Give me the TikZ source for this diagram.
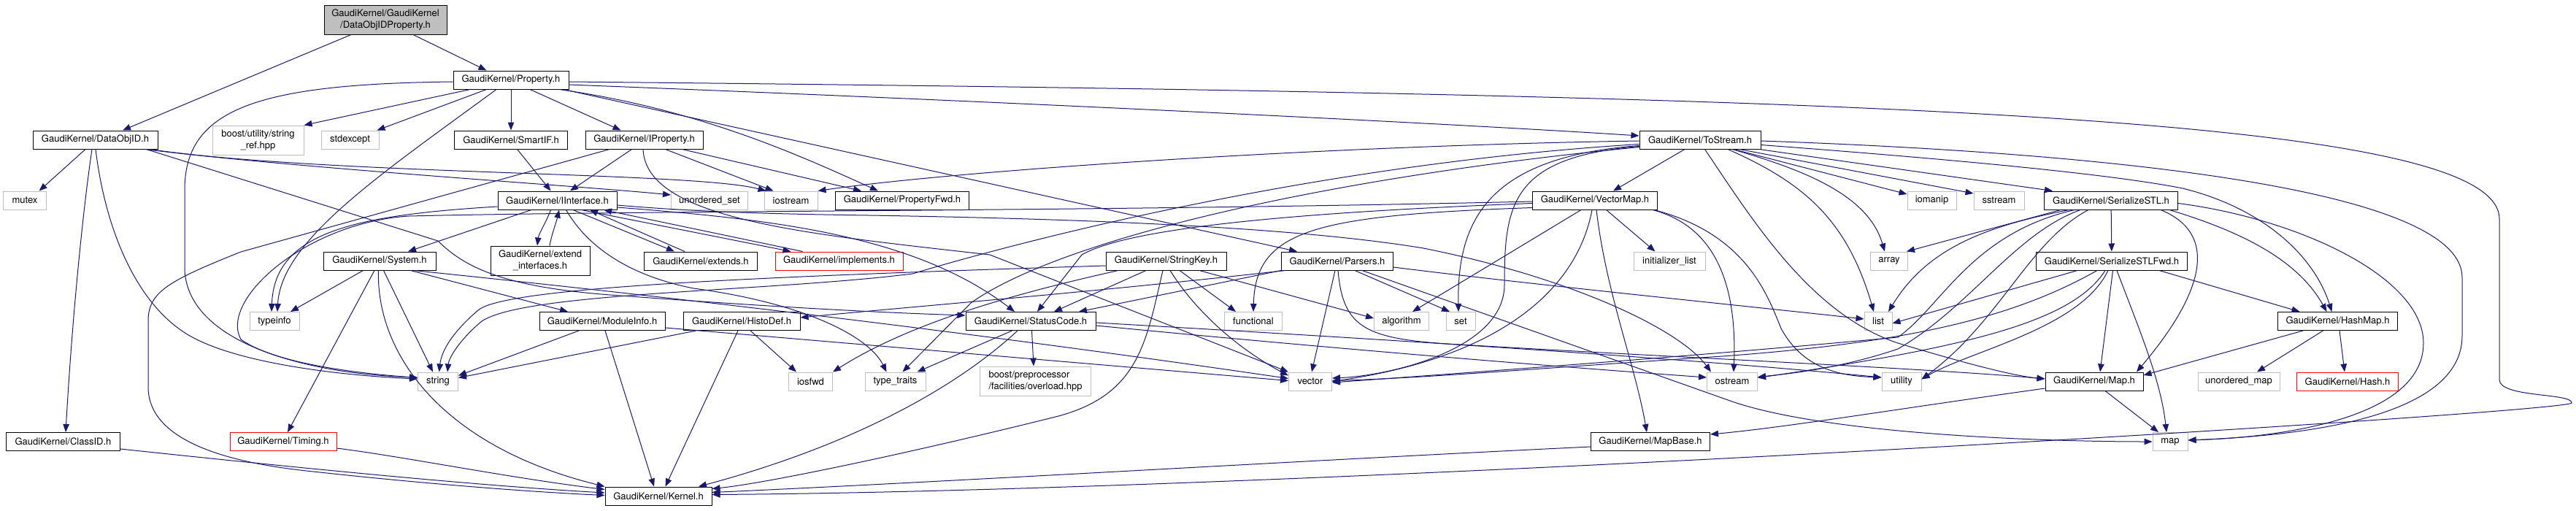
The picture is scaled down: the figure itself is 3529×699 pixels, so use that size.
\documentclass[tikz,border=0pt]{standalone}
\usepackage{fontspec}
\setmainfont{TeX Gyre Heros}
\usetikzlibrary{arrows.meta}
\definecolor{edgec}{RGB}{25,25,112}
\definecolor{grayb}{RGB}{191,191,191}
\tikzset{
 base/.style={rectangle, minimum height=25pt, inner sep=0pt, line width=1pt, font=\fontsize{13}{15.5}\selectfont, text=black},
 doc/.style={base, draw=black},
 sys/.style={base, draw=grayb},
 undoc/.style={base, draw=red},
 arr/.style={draw=edgec, line width=1pt, -{Triangle[length=11pt,width=8.5pt]}},
}
\begin{document}
\begin{tikzpicture}[x=1pt,y=-1pt]
\fill[white] (0,0) rectangle (3529,699);
\useasboundingbox (0,0) rectangle (3529,699);
% nodes
\node[doc, minimum width=168pt, minimum height=40pt, fill=grayb, align=center] (root) at (528,27) {GaudiKernel/GaudiKernel\\/DataObjIDProperty.h};
\node[doc, minimum width=158pt] (prop) at (700,109.5) {GaudiKernel/Property.h};
\node[doc, minimum width=171pt] (dataobjid) at (130.5,191.5) {GaudiKernel/DataObjID.h};
\node[sys, minimum width=125pt, minimum height=40pt, align=center] (boostsr) at (353.5,192) {boost/utility/string\\\_ref.hpp};
\node[sys, minimum width=79pt] (stdexcept) at (479.5,191.5) {stdexcept};
\node[doc, minimum width=155pt] (smartif) at (700,191.5) {GaudiKernel/SmartIF.h};
\node[doc, minimum width=161pt] (iprop) at (882.5,191.5) {GaudiKernel/IProperty.h};
\node[doc, minimum width=166pt] (tostream) at (2329,191.5) {GaudiKernel/ToStream.h};
\node[sys, minimum width=59pt] (mutex) at (34,274.5) {mutex};
\node[doc, minimum width=163pt] (iinterface) at (763.5,274.5) {GaudiKernel/IInterface.h};
\node[sys, minimum width=105pt] (unordset) at (972,274.5) {unordered\_set};
\node[sys, minimum width=73pt] (iostream) at (1083.5,274.5) {iostream};
\node[doc, minimum width=183pt] (propfwd) at (1236,274.5) {GaudiKernel/PropertyFwd.h};
\node[doc, minimum width=171pt] (vectormap) at (2185,274.5) {GaudiKernel/VectorMap.h};
\node[sys, minimum width=67pt] (iomanip) at (2646.5,274.5) {iomanip};
\node[sys, minimum width=69pt] (sstream) at (2738.5,274.5) {sstream};
\node[doc, minimum width=183pt] (serstl) at (2892,274.5) {GaudiKernel/SerializeSTL.h};
\node[doc, minimum width=154pt] (system) at (520,357.5) {GaudiKernel/System.h};
\node[doc, minimum width=136pt, minimum height=40pt, align=center] (extendif) at (740,357) {GaudiKernel/extend\\\_interfaces.h};
\node[doc, minimum width=155pt] (extends) at (960,357.5) {GaudiKernel/extends.h};
\node[undoc, minimum width=175pt] (implements) at (1149.5,357.5) {GaudiKernel/implements.h};
\node[doc, minimum width=165pt] (stringkey) at (1597.5,357.5) {GaudiKernel/StringKey.h};
\node[doc, minimum width=153pt] (parsers) at (1832,357.5) {GaudiKernel/Parsers.h};
\node[sys, minimum width=98pt] (initlist) at (2287,357.5) {initializer\_list};
\node[sys, minimum width=51pt] (array) at (2588,357.5) {array};
\node[doc, minimum width=207pt] (serstlfwd) at (2893,357.5) {GaudiKernel/SerializeSTLFwd.h};
\node[sys, minimum width=68pt] (typeinfo) at (376,440) {typeinfo};
\node[doc, minimum width=172pt] (moduleinfo) at (825,440) {GaudiKernel/ModuleInfo.h};
\node[doc, minimum width=160pt] (histodef) at (1016,440) {GaudiKernel/HistoDef.h};
\node[doc, minimum width=178pt] (statuscode) at (1412,440) {GaudiKernel/StatusCode.h};
\node[sys, minimum width=79pt] (functional) at (1717,440) {functional};
\node[sys, minimum width=75pt] (algorithm) at (1920,440) {algorithm};
\node[sys, minimum width=40pt] (set) at (2001,440) {set};
\node[sys, minimum width=38pt] (list) at (2573,440) {list};
\node[doc, minimum width=164pt] (hashmap) at (3202.5,440) {GaudiKernel/HashMap.h};
\node[sys, minimum width=55pt] (string) at (600,522.5) {string};
\node[sys, minimum width=60pt] (iosfwd) at (1110.5,522.5) {iosfwd};
\node[sys, minimum width=83pt] (typetraits) at (1226.5,522.5) {type\_traits};
\node[sys, minimum width=152pt, minimum height=40pt, align=left] (boostpp) at (1418.5,522) {boost/preprocessor\\/facilities/overload.hpp};
\node[sys, minimum width=59pt] (vector) at (1795,522.5) {vector};
\node[sys, minimum width=69pt] (ostream) at (2373,522.5) {ostream};
\node[sys, minimum width=54pt] (utility) at (2605,522.5) {utility};
\node[doc, minimum width=134pt] (mapH) at (2869,522.5) {GaudiKernel/Map.h};
\node[sys, minimum width=112pt] (unordmap) at (3067,522.5) {unordered\_map};
\node[undoc, minimum width=139pt] (hash) at (3216,522.5) {GaudiKernel/Hash.h};
\node[doc, minimum width=156pt] (classid) at (86.5,605) {GaudiKernel/ClassID.h};
\node[undoc, minimum width=146pt] (timing) at (388,605) {GaudiKernel/Timing.h};
\node[doc, minimum width=163pt] (mapbase) at (2261,605) {GaudiKernel/MapBase.h};
\node[sys, minimum width=48pt] (map) at (2973,605) {map};
\node[doc, minimum width=146pt] (kernel) at (902,679.5) {GaudiKernel/Kernel.h};
% root
\draw[arr] ([xshift=-47pt]root.south) -- ([xshift=37.5pt]dataobjid.north);
\draw[arr] ([xshift=38pt]root.south) -- ([xshift=-33.5pt]prop.north);
% DataObjID
\draw[arr] ([xshift=-13.5pt]dataobjid.south) -- ([xshift=19.6pt]mutex.north);
\draw[arr] ([xshift=-4.5pt]dataobjid.south) .. controls (112,300) and (98,450) .. ([xshift=3.5pt]classid.north);
\draw[arr] ([xshift=0.5pt]dataobjid.south) .. controls (145,320) and (190,420) .. (260,460) .. controls (330,500) and (480,515) .. ([yshift=3.5pt]string.west);
\draw[arr] ([xshift=68.5pt]dataobjid.south) .. controls (400,230) and (800,255) .. ([yshift=7.5pt]unordset.west);
\draw[arr] ([xshift=74.5pt]dataobjid.south) .. controls (450,240) and (950,235) .. ([xshift=-34pt]iostream.north);
\draw[arr] ([xshift=70pt]dataobjid.south) -- (600,330) .. controls (640,370) and (700,395) .. (850,405) .. controls (1050,420) and (1200,428) .. ([yshift=8pt]statuscode.west);
% Property
\draw[arr] ([yshift=-2.5pt]prop.west) .. controls (350,115) and (253,150) .. (253,260) -- (253,370) .. controls (258,470) and (420,512) .. ([yshift=5.5pt]string.west);
\draw[arr] ([xshift=-56pt]prop.south) -- (boostsr.north east);
\draw[arr] ([xshift=-33.5pt]prop.south) -- ([xshift=37pt]stdexcept.north);
\draw[arr] ([xshift=-20pt]prop.south) .. controls (520,240) and (385,330) .. ([xshift=4pt]typeinfo.north);
\draw[arr] (prop) -- (smartif);
\draw[arr] ([xshift=26pt]prop.south) -- ([xshift=-32pt]iprop.north);
\draw[arr] ([xshift=66pt]prop.south) .. controls (960,150) and (1100,215) .. ([xshift=-33pt]propfwd.north);
\draw[arr] ([xshift=72pt]prop.south) -- ([xshift=-55pt]parsers.north);
\draw[arr] ([yshift=-6.5pt]prop.east) .. controls (1400,140) and (2000,170) .. ([yshift=5.5pt]tostream.west);
\draw[arr] ([yshift=-2.5pt]prop.east) .. controls (2600,130) and (3424,160) .. (3424,300) -- (3424,520) .. controls (3424,545) and (3524,538) .. (3523,552) .. controls (3520,565) and (1800,672) .. ([yshift=2pt]kernel.east);
% SmartIF
\draw[arr] ([xshift=8.6pt]smartif.south) -- ([xshift=-9pt]iinterface.north);
% IProperty
\draw[arr] ([xshift=-17pt]iprop.south) -- ([xshift=17.5pt]iinterface.north);
\draw[arr] ([xshift=-47.5pt]iprop.south) -- (330,345) .. controls (230,385) and (203,400) .. (203,440) -- (203,530) .. controls (203,600) and (300,632) .. (420,645) .. controls (600,665) and (750,675) .. ([yshift=1pt]kernel.west);
\draw[arr] ([xshift=29pt]iprop.south) -- ([xshift=-24pt]iostream.north);
\draw[arr] ([xshift=52pt]iprop.south) -- ([xshift=-56pt]propfwd.north);
\draw[arr] ([xshift=-1.5pt]iprop.south) .. controls (885,300) and (1100,320) .. (1356,349) -- (vector.north west);
% IInterface
\draw[arr] ([yshift=-8.5pt]iinterface.west) .. controls (480,295) and (376,320) .. ([xshift=-4pt]typeinfo.north);
\draw[arr] ([xshift=-35.5pt]iinterface.south) -- ([xshift=39pt]system.north);
\draw[arr] ([xshift=-9pt]iinterface.south) .. controls (748,305) and (738,320) .. ([xshift=-4pt]extendif.north);
\draw[arr] ([xshift=13pt]extendif.north) .. controls (756,320) and (762,305) .. ([xshift=2.5pt]iinterface.south);
\draw[arr] ([xshift=21.5pt]iinterface.south) -- ([xshift=-36pt]extends.north);
\draw[arr] ([xshift=-22pt]extends.north) -- ([xshift=44.5pt]iinterface.south);
\draw[arr] ([xshift=33pt]iinterface.south) -- ([xshift=-66pt]implements.north);
\draw[arr] ([xshift=-50pt]implements.north) -- ([xshift=63.5pt]iinterface.south);
\draw[arr] ([xshift=12pt]iinterface.south) .. controls (800,330) and (850,375) .. (950,395) .. controls (1100,415) and (1190,460) .. ([xshift=-12pt]typetraits.north);
\draw[arr] ([yshift=-9.5pt]iinterface.east) .. controls (1050,300) and (1250,320) .. ([xshift=-22pt]statuscode.north);
\draw[arr] ([yshift=-6.5pt]iinterface.east) .. controls (950,290) and (1050,293) .. (1190,295) .. controls (1500,300) and (1780,312) .. (1950,340) .. controls (2150,380) and (2300,450) .. ([xshift=-29pt]ostream.north);
% System
\draw[arr] ([xshift=-22.5pt]system.south) -- ([xshift=22pt]typeinfo.north);
\draw[arr] ([xshift=-7pt]system.south) -- ([xshift=6pt]timing.north);
\draw[arr] ([xshift=5.5pt]system.south) -- ([xshift=-7pt]string.north);
\draw[arr] ([xshift=-1.5pt]system.south) .. controls (515,480) and (600,610) .. ([yshift=13pt]kernel.west);
\draw[arr] ([xshift=42.5pt]system.south) -- ([xshift=-47pt]moduleinfo.north);
\draw[arr] ([xshift=47pt]system.south) .. controls (1000,415) and (1400,465) .. ([yshift=4pt]vector.west);
% ModuleInfo
\draw[arr] ([xshift=-32pt]moduleinfo.south) -- ([yshift=8pt]string.east);
\draw[arr] ([xshift=4pt]moduleinfo.south) -- ([xshift=-6pt]kernel.north);
\draw[arr] ([yshift=-9pt]moduleinfo.east) -- ([yshift=1pt]vector.west);
% HistoDef
\draw[arr] ([xshift=-62.5pt]histodef.south) -- ([yshift=5pt]string.east);
\draw[arr] ([xshift=12pt]histodef.south) -- ([xshift=-19.5pt]iosfwd.north);
\draw[arr] ([xshift=-5pt]histodef.south) -- ([xshift=9.5pt]kernel.north);
% StatusCode
\draw[arr] ([xshift=-25.5pt]statuscode.south) -- ([xshift=30pt]typetraits.north);
\draw[arr] ([xshift=1.5pt]statuscode.south) -- ([xshift=-2.5pt]boostpp.north);
\draw[arr] ([xshift=-18pt]statuscode.south) .. controls (1300,540) and (1150,615) .. ([xshift=55pt]kernel.north);
\draw[arr] ([yshift=-6pt]statuscode.east) .. controls (1800,475) and (2100,500) .. ([yshift=5.5pt]ostream.west);
\draw[arr] ([yshift=-2pt]statuscode.east) .. controls (1900,465) and (2300,490) .. ([yshift=5.5pt]utility.west);
% StringKey
\draw[arr] ([yshift=-6.5pt]stringkey.west) .. controls (1000,380) and (690,395) .. (655,425) .. controls (620,455) and (605,480) .. ([xshift=1.5pt]string.north);
\draw[arr] ([xshift=18.5pt]stringkey.south) -- ([xshift=-24pt]functional.north);
\draw[arr] ([xshift=-27.5pt]stringkey.south) -- ([xshift=32pt]statuscode.north);
\draw[arr] ([xshift=5.5pt]stringkey.south) .. controls (1640,430) and (1700,480) .. ([yshift=8pt]vector.west);
\draw[arr] ([xshift=-4.5pt]stringkey.south) .. controls (1570,470) and (1560,540) .. (1450,570) .. controls (1250,620) and (1050,662) .. ([yshift=10pt]kernel.east);
\draw[arr] ([xshift=-65.5pt]stringkey.south) .. controls (1400,400) and (1250,440) .. (iosfwd.north east);
\draw[arr] ([xshift=45.5pt]stringkey.south) -- ([yshift=4pt]algorithm.west);
% Parsers
\draw[arr] ([xshift=-3pt]parsers.south) -- ([xshift=2pt]vector.north);
\draw[arr] ([xshift=24pt]parsers.south) -- ([xshift=-15pt]set.north);
\draw[arr] ([xshift=34pt]parsers.south) -- (2370,549) .. controls (2500,595) and (2800,605) .. (map.west);
\draw[arr] ([yshift=-8.5pt]parsers.east) .. controls (2100,390) and (2400,420) .. ([yshift=3pt]list.west);
\draw[arr] ([xshift=1pt]parsers.south) .. controls (1840,450) and (1870,465) .. (2000,472) .. controls (2300,490) and (2650,505) .. ([yshift=3.5pt]mapH.west);
\draw[arr] ([xshift=6pt]parsers.south west) .. controls (1500,400) and (1250,420) .. ([yshift=5pt]histodef.east);
\draw[arr] (parsers.south west) -- ([xshift=66pt]statuscode.north);
% ToStream
\draw[arr] ([yshift=-1.5pt]tostream.west) .. controls (1800,200) and (1300,235) .. (iostream.north east);
\draw[arr] ([yshift=-6pt]tostream.west) .. controls (1800,225) and (1400,330) .. (1250,375) .. controls (1050,400) and (720,400) .. (660,440) .. controls (630,465) and (615,490) .. ([xshift=13pt]string.north);
\draw[arr] ([yshift=-10pt]tostream.west) .. controls (1800,245) and (1450,330) .. (1330,415) -- ([xshift=10pt]typetraits.north);
\draw[arr] ([yshift=-8pt]tostream.west) .. controls (2040,215) and (1996,300) .. ([xshift=-3pt]set.north);
\draw[arr] ([yshift=-9pt]tostream.west) .. controls (2070,215) and (2061,280) .. (2061,390) .. controls (2061,480) and (1900,515) .. ([yshift=4.5pt]vector.east);
\draw[arr] ([xshift=46pt]tostream.south) -- ([yshift=8.5pt]iomanip.west);
\draw[arr] ([xshift=54pt]tostream.south) -- ([yshift=9.5pt]sstream.west);
\draw[arr] ([xshift=81pt]tostream.south) -- ([xshift=-80pt]serstl.north);
\draw[arr] ([xshift=44pt]tostream.south) .. controls (2480,235) and (2560,270) .. ([xshift=-6pt]array.north);
\draw[arr] ([xshift=38pt]tostream.south) .. controls (2470,250) and (2530,300) .. ([xshift=-6pt]list.north);
\draw[arr] ([xshift=-21pt]tostream.south) -- ([xshift=25pt]vectormap.north);
\draw[arr] ([xshift=6.5pt]tostream.south) .. controls (2400,300) and (2480,430) .. (2600,470) .. controls (2700,500) and (2760,515) .. ([yshift=3.5pt]mapH.west);
\draw[arr] ([yshift=-1.5pt]tostream.east) .. controls (2900,210) and (3373,260) .. (3373,380) -- (3373,460) .. controls (3373,560) and (3200,595) .. ([yshift=2pt]map.east);
\draw[arr] ([yshift=-7pt]tostream.east) .. controls (2700,220) and (2900,240) .. (2990,258) .. controls (3100,285) and (3170,350) .. ([xshift=-8pt]hashmap.north);
% VectorMap
\draw[arr] ([yshift=-1.5pt]vectormap.west) .. controls (1500,290) and (900,288) .. (560,296) .. controls (420,305) and (300,410) .. (330,465) .. controls (380,500) and (500,512) .. ([yshift=5pt]string.west);
\draw[arr] ([yshift=-4pt]vectormap.west) .. controls (1800,290) and (1550,310) .. (1482,349) -- ([xshift=9pt]statuscode.north);
\draw[arr] ([yshift=-10pt]vectormap.west) .. controls (1800,295) and (1720,315) .. (functional.north);
\draw[arr] ([xshift=-19pt]vectormap.south) -- ([xshift=15pt]algorithm.north);
\draw[arr] ([xshift=-4pt]vectormap.south) .. controls (2160,400) and (2050,490) .. (vector.east);
\draw[arr] ([xshift=2pt]vectormap.south) .. controls (2200,400) and (2240,500) .. ([xshift=-5pt]mapbase.north);
\draw[arr] ([xshift=15.5pt]vectormap.south) -- ([xshift=-19.5pt]initlist.north);
\draw[arr] ([xshift=79pt]vectormap.south) .. controls (2350,310) and (2380,390) .. ([xshift=2pt]ostream.north);
\draw[arr] ([xshift=81pt]vectormap.south) .. controls (2390,320) and (2420,400) .. (2440,450) .. controls (2470,505) and (2520,515) .. ([yshift=5.5pt]utility.west);
% SerializeSTL
\draw[arr] ([xshift=-69pt]serstl.south) -- ([xshift=24pt]array.north);
\draw[arr] ([xshift=-57.5pt]serstl.south) .. controls (2720,310) and (2640,340) .. ([xshift=14pt]list.north);
\draw[arr] ([xshift=-42pt]serstl.south) .. controls (2760,320) and (2700,420) .. (2600,478) .. controls (2520,505) and (2450,512) .. ([yshift=6pt]ostream.east);
\draw[arr] ([xshift=-31pt]serstl.south) .. controls (2780,330) and (2740,440) .. ([yshift=3pt]utility.east);
\draw[arr] (serstl) -- (serstlfwd);
\draw[arr] ([yshift=-4pt]serstl.east) .. controls (3150,300) and (3320,380) .. (3320,470) .. controls (3320,580) and (3100,600) .. ([yshift=2pt]map.east);
\draw[arr] ([xshift=80pt]serstl.south) .. controls (3080,320) and (3150,360) .. ([xshift=-15pt]hashmap.north);
\draw[arr] ([xshift=68pt]serstl.south) .. controls (3040,320) and (3020,400) .. ([xshift=58pt]mapH.north);
\draw[arr] ([xshift=-50pt]serstl.south) .. controls (2700,320) and (2660,420) .. (2600,462) .. controls (2300,490) and (1950,515) .. ([yshift=-1.5pt]vector.east);
% SerializeSTLFwd
\draw[arr] ([xshift=-47pt]serstlfwd.south) -- ([yshift=-3pt]list.east);
\draw[arr] ([xshift=-20pt]serstlfwd.south) .. controls (2750,440) and (2600,470) .. (2360,488) .. controls (2100,505) and (1950,518) .. ([yshift=1pt]vector.east);
\draw[arr] ([xshift=-9pt]serstlfwd.south) .. controls (2840,440) and (2700,475) .. ([yshift=5pt]ostream.east);
\draw[arr] ([xshift=-5pt]serstlfwd.south) .. controls (2850,450) and (2700,480) .. ([yshift=3pt]utility.east);
\draw[arr] ([xshift=1.5pt]serstlfwd.south) -- ([xshift=8pt]mapH.north);
\draw[arr] ([xshift=7pt]serstlfwd.south) .. controls (2930,450) and (2960,520) .. ([xshift=-5pt]map.north);
\draw[arr] ([xshift=65pt]serstlfwd.south) -- ([xshift=-52pt]hashmap.north);
% HashMap
\draw[arr] ([xshift=-20pt]hashmap.south) -- ([xshift=25pt]unordmap.north);
\draw[arr] ([xshift=2.5pt]hashmap.south) -- ([xshift=-4pt]hash.north);
\draw[arr] ([xshift=-47.5pt]hashmap.south) -- ([yshift=8.5pt]mapH.east);
% Map.h
\draw[arr] ([xshift=15pt]mapH.south) -- ([xshift=-16pt]map.north);
\draw[arr] ([yshift=-9.5pt]mapH.west) .. controls (2600,560) and (2450,585) .. ([yshift=10pt]mapbase.east);
% MapBase, ClassID, Timing
\draw[arr] ([yshift=-7pt]mapbase.west) .. controls (1800,630) and (1300,660) .. ([yshift=5pt]kernel.east);
\draw[arr] ([yshift=-10pt]classid.east) .. controls (400,640) and (650,665) .. ([yshift=4.5pt]kernel.west);
\draw[arr] ([yshift=-9pt]timing.east) .. controls (550,625) and (700,655) .. ([yshift=9pt]kernel.west);
\end{tikzpicture}
\end{document}
